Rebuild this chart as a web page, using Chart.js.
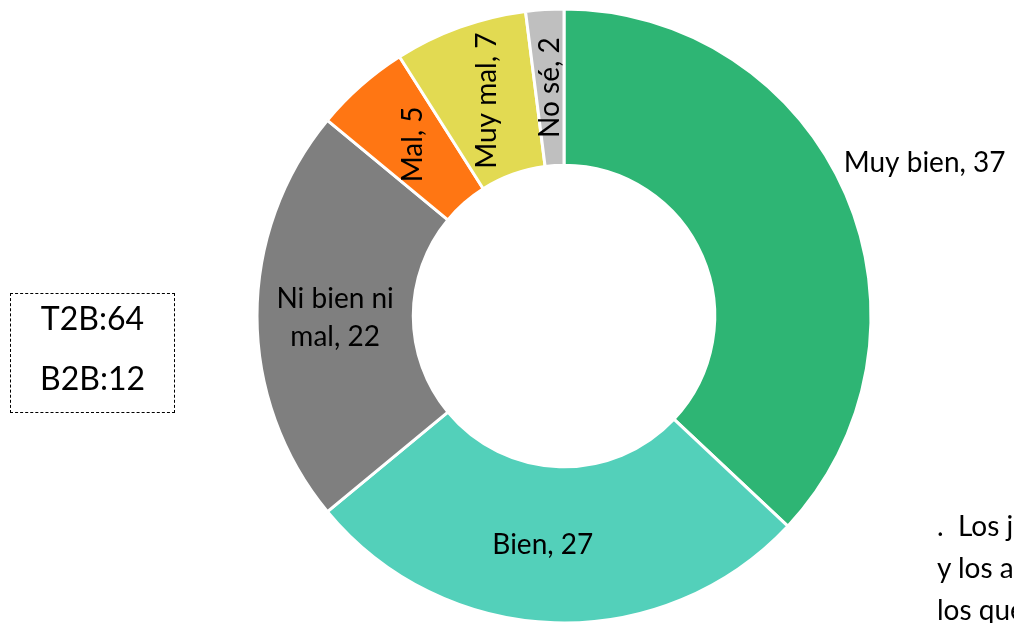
<!DOCTYPE html>
<html>
<head>
<meta charset="utf-8">
<script src="https://cdn.jsdelivr.net/npm/chart.js@4"></script>
<style>
  html, body { margin: 0; padding: 0; background: #fff; width: 1014px; height: 623px; overflow: hidden; }
  body { position: relative; font-family: Lato, "Noto Sans", sans-serif; }
  #wrap { position: absolute; left: 0; top: 0; width: 1014px; height: 623px; }
  #box {
    position: absolute; left: 10px; top: 293px; width: 163px; height: 118px;
    border: 1px dashed #000; font-size: 32px; line-height: 32px; color: #000; text-align: center;
  }
  #box div { position: absolute; left: 0; right: 0; }
  #note {
    position: absolute; left: 937px; top: 504px; font-size: 28px; line-height: 42px;
    white-space: nowrap; color: #000;
  }
</style>
</head>
<body>
<div id="wrap"><canvas id="chart"></canvas></div>
<div id="box"><div style="top:8px">T2B:64</div><div style="top:68px">B2B:12</div></div>
<div id="note">.&nbsp;&nbsp;Los jóvenes<br>y los adultos<br>los que</div>
<script>
const categories = ['Muy bien', 'Bien', 'Ni bien ni mal', 'Mal', 'Muy mal', 'No sé'];
const values = [37, 27, 22, 5, 7, 2];
const colors = ['#2EB574', '#53D0BA', '#7F7F7F', '#FF7613', '#E2DA52', '#BFBFBF'];

// how each label is placed: inside, rotated, or outside
const labelModes = ['outside', 'inside', 'wrap', 'rotated', 'rotated', 'rotated'];

const sliceLabels = {
  id: 'sliceLabels',
  afterDatasetsDraw(chart) {
    const ctx = chart.ctx;
    const meta = chart.getDatasetMeta(0);
    ctx.save();
    ctx.fillStyle = '#000';
    ctx.font = '28px Lato, "Noto Sans", sans-serif';
    meta.data.forEach((arc, i) => {
      const text = categories[i] + ', ' + values[i];
      const mid = (arc.startAngle + arc.endAngle) / 2;
      const mode = labelModes[i];
      if (mode === 'outside') {
        const x = arc.x + Math.cos(mid) * arc.outerRadius;
        const y = arc.y + Math.sin(mid) * arc.outerRadius;
        ctx.textAlign = 'left';
        ctx.textBaseline = 'middle';
        ctx.fillText(text, x - 2, y - 31);
        return;
      }
      const r = (arc.innerRadius + arc.outerRadius) / 2;
      const x = arc.x + Math.cos(mid) * r;
      const y = arc.y + Math.sin(mid) * r;
      ctx.textAlign = 'center';
      ctx.textBaseline = 'middle';
      if (mode === 'rotated') {
        ctx.save();
        ctx.translate(x, y);
        ctx.rotate(-Math.PI / 2);
        ctx.fillText(text, 0, 0);
        ctx.restore();
      } else if (mode === 'wrap') {
        ctx.fillText('Ni bien ni', x, y - 17);
        ctx.fillText('mal, ' + values[i], x, y + 21);
      } else {
        ctx.fillText(text, x - 14, y);
      }
    });
    ctx.restore();
  }
};

new Chart(document.getElementById('chart'), {
  type: 'doughnut',
  data: {
    labels: categories,
    datasets: [{
      data: values,
      backgroundColor: colors,
      borderColor: '#fff',
      borderWidth: 3,
      hoverOffset: 0
    }]
  },
  options: {
    responsive: true,
    maintainAspectRatio: false,
    animation: false,
    radius: 307,
    cutout: 150,
    layout: { padding: { left: 114, top: 9 } },
    plugins: {
      legend: { display: false },
      tooltip: { enabled: false }
    }
  },
  plugins: [sliceLabels]
});
</script>
</body>
</html>
